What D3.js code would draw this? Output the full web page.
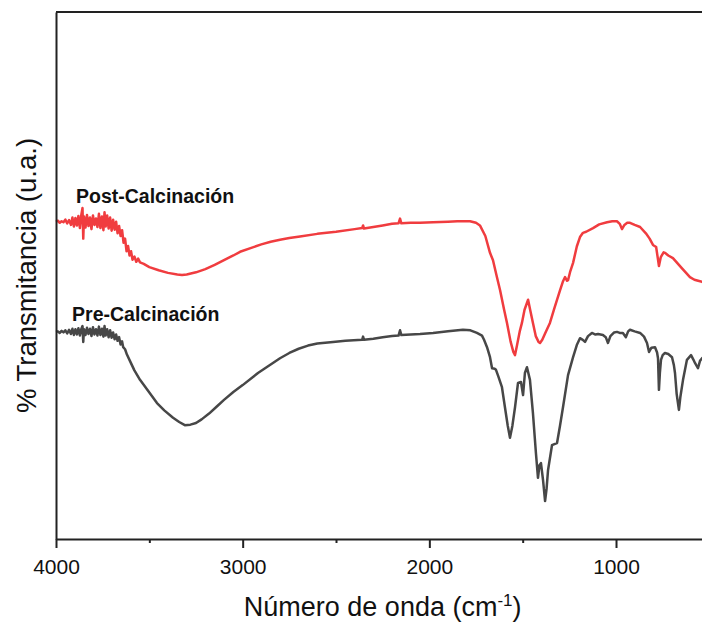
<!DOCTYPE html>
<html>
<head>
<meta charset="utf-8">
<script src="https://cdn.jsdelivr.net/npm/d3@7"></script>
<style>
  html, body { margin: 0; padding: 0; background: #fff; }
  svg { display: block; }
  text { font-family: Arial, "Liberation Sans", sans-serif; fill: #111; }
</style>
</head>
<body>
<svg id="chart" width="702" height="624"></svg>
<script>
// FTIR spectra: wavenumber (cm-1) and transmittance (arbitrary units, offset per sample)
const postWavenumber = [
  4000,3990,3980,3970,3960,3950,3940,3930,3920,3912,3904,3896,3888,3880,3872,3864,3858,3854,3850,3842,
  3834,3826,3818,3810,3802,3794,3786,3778,3770,3762,3754,3746,3740,3734,3726,3718,3710,3702,3694,3686,
  3678,3670,3662,3654,3646,3638,3630,3622,3614,3606,3598,3590,3580,3570,3560,3550,3530,3500,3450,3400,
  3350,3325,3300,3250,3200,3150,3100,3050,3014,2950,2900,2850,2800,2750,2693,2600,2500,2400,2360,2355,
  2350,2300,2250,2200,2165,2157,2150,2100,2050,1980,1900,1850,1782,1750,1729,1700,1675,1659,1640,1621,
  1600,1584,1565,1550,1541,1530,1515,1504,1490,1471,1460,1445,1430,1415,1407,1395,1380,1354,1330,1300,
  1285,1273,1262,1257,1245,1230,1210,1193,1177,1160,1123,1090,1048,1020,995,980,968,955,940,925,
  900,871,840,820,802,785,775,770,760,745,738,720,695,650,604,580,560,539,500
];
const postTransmittance = [
  60.2,60.4,60.0,60.3,60.1,60.6,59.9,60.5,59.6,61.0,59.3,60.9,59.5,61.3,59.0,61.6,62.8,57.0,61.2,59.1,
  61.5,59.4,61.0,58.8,61.4,59.6,60.8,59.2,61.7,59.0,61.2,58.6,62.0,59.3,61.4,58.9,61.0,58.5,60.6,58.7,
  60.2,58.0,59.4,57.5,58.6,56.2,57.0,54.6,55.6,53.8,54.6,53.0,53.6,52.6,53.2,52.5,52.2,51.6,51.0,50.5,
  50.2,50.1,50.2,50.6,51.2,52.0,52.9,53.8,54.5,55.3,55.9,56.4,56.8,57.1,57.4,57.9,58.3,58.8,59.0,59.5,
  58.9,59.2,59.5,59.8,59.9,60.8,59.9,60.0,60.0,60.1,60.2,60.3,60.3,60.0,59.5,57.5,54.3,52.9,50.0,47.2,
  43.6,41.0,37.5,35.5,34.9,36.8,39.5,41.0,43.5,45.4,43.5,41.0,38.5,37.4,37.2,37.8,39.0,41.0,43.8,47.2,
  48.8,49.7,49.0,49.1,50.8,52.4,55.5,57.3,58.1,58.3,59.0,59.7,60.1,60.3,60.3,59.8,58.8,59.6,60.0,60.0,
  59.6,59.2,58.0,57.0,55.8,55.4,53.0,51.8,53.5,54.4,54.3,53.8,53.3,51.5,49.7,49.2,49.0,48.8,48.2
];

const preWavenumber = [
  4000,3990,3980,3970,3960,3950,3940,3930,3920,3912,3904,3896,3888,3880,3872,3864,3858,3854,3850,3842,
  3834,3826,3818,3810,3802,3794,3786,3778,3770,3762,3754,3746,3740,3734,3726,3718,3710,3702,3694,3686,
  3678,3670,3662,3654,3646,3640,3630,3620,3604,3580,3550,3500,3459,3420,3373,3340,3310,3280,3250,3220,
  3180,3140,3100,3050,3000,2918,2850,2800,2750,2700,2650,2600,2516,2450,2360,2355,2350,2300,2250,2200,
  2165,2157,2150,2100,2050,1980,1900,1820,1780,1745,1718,1707,1691,1675,1664,1650,1643,1630,1611,1595,
  1580,1568,1555,1541,1525,1509,1498,1488,1477,1461,1445,1429,1418,1410,1402,1391,1380,1372,1364,1343,
  1330,1316,1300,1284,1257,1230,1210,1193,1178,1166,1150,1129,1110,1096,1070,1055,1043,1030,1010,995,
  980,963,947,935,925,900,871,850,834,823,810,791,780,775,770,765,759,750,738,720,
  700,690,684,675,663,655,641,620,598,585,577,561,550,539,500
];
const preTransmittance = [
  39.3,39.4,39.1,39.5,39.2,39.6,39.0,39.7,38.9,39.9,38.7,39.8,38.8,40.0,38.6,39.9,40.4,37.4,39.8,38.7,
  40.1,38.9,39.9,38.5,40.2,38.8,39.8,38.6,40.3,38.7,39.9,38.4,40.4,38.6,39.8,38.3,39.6,38.2,39.2,37.9,
  38.8,37.6,38.3,36.9,37.5,36.4,36.0,35.0,33.8,32.0,30.2,27.8,25.8,24.4,23.0,22.2,21.6,21.7,22.0,22.7,
  23.8,25.1,26.4,27.9,29.2,31.5,33.1,34.3,35.3,36.1,36.7,37.1,37.4,37.6,37.8,38.4,37.8,38.0,38.3,38.5,
  38.6,39.6,38.7,38.8,38.9,39.1,39.4,39.7,39.6,39.1,38.6,37.8,36.4,34.5,32.4,32.3,32.1,30.8,28.8,25.0,
  21.5,19.2,21.5,25.0,29.6,29.8,27.3,31.5,32.6,30.2,23.9,16.3,11.6,14.0,14.4,11.2,7.2,9.5,13.1,17.8,
  18.0,18.2,21.5,25.0,31.1,34.5,36.8,38.1,37.8,37.4,38.5,39.1,38.8,38.9,38.7,38.3,37.2,38.5,39.2,39.3,
  39.1,39.1,38.3,39.4,39.7,39.4,39.1,38.4,37.2,35.5,36.3,36.4,35.4,34.3,28.3,31.5,34.0,34.9,35.3,35.1,
  34.5,33.0,31.5,27.5,24.5,27.0,30.2,34.0,34.9,34.0,33.4,32.4,33.8,34.3,35.0
];

const majorTicks = [4000, 3000, 2000, 1000];
const minorTicks = [3500, 2500, 1500];
const seriesNames = ["Post-Calcinación", "Pre-Calcinación"];
const seriesColors = ["#f03c3f", "#474747"];
const xTitle = "Número de onda (cm";
const yTitle = "% Transmitancia (u.a.)";

const svg = d3.select("#chart");
const plotLeft = 56, plotTop = 12, plotBottom = 539;

const x = d3.scaleLinear().domain([4000, 500]).range([plotLeft, plotLeft + 3500 * 0.18667]);
const y = d3.scaleLinear().domain([0, 100]).range([plotBottom, plotTop]);

const series = [
  { name: seriesNames[0], color: seriesColors[0], pts: postWavenumber.map((w, i) => [w, postTransmittance[i]]) },
  { name: seriesNames[1], color: seriesColors[1], pts: preWavenumber.map((w, i) => [w, preTransmittance[i]]) }
];

const line = d3.line().x(d => x(d[0])).y(d => y(d[1]));

svg.selectAll("path.spectrum")
  .data(series)
  .join("path")
  .attr("class", "spectrum")
  .attr("d", d => line(d.pts))
  .attr("fill", "none")
  .attr("stroke", d => d.color)
  .attr("stroke-width", 2.5)
  .attr("stroke-linejoin", "round");

// Frame: top border and left axis (no ticks)
svg.append("line")
  .attr("x1", plotLeft).attr("x2", x.range()[1])
  .attr("y1", plotTop).attr("y2", plotTop)
  .attr("stroke", "#222").attr("stroke-width", 2);

svg.append("g")
  .attr("transform", `translate(${plotLeft},0)`)
  .call(d3.axisLeft(y).tickValues([]).tickSizeOuter(0))
  .call(g => g.select(".domain").attr("stroke", "#222").attr("stroke-width", 2));

// Bottom axis with major and minor ticks
svg.append("g")
  .attr("transform", `translate(0,${plotBottom})`)
  .call(d3.axisBottom(x).tickValues(minorTicks).tickSize(4).tickSizeOuter(0).tickFormat(""))
  .call(g => g.select(".domain").remove())
  .call(g => g.selectAll(".tick line").attr("stroke", "#222").attr("stroke-width", 2));

svg.append("g")
  .attr("transform", `translate(0,${plotBottom})`)
  .call(d3.axisBottom(x).tickValues(majorTicks).tickSize(9).tickSizeOuter(0).tickPadding(11).tickFormat(d3.format("d")))
  .call(g => g.select(".domain").attr("stroke", "#222").attr("stroke-width", 2))
  .call(g => g.selectAll(".tick line").attr("stroke", "#222").attr("stroke-width", 2))
  .call(g => g.selectAll(".tick text")
    .attr("font-size", 21)
    .attr("font-family", "Arial, 'Liberation Sans', sans-serif")
    .attr("fill", "#111"));

// Axis titles
const xt = svg.append("text")
  .attr("x", (x.range()[0] + x.range()[1]) / 2)
  .attr("y", 616)
  .attr("text-anchor", "middle")
  .attr("font-size", 27);
xt.append("tspan").text(xTitle);
xt.append("tspan").attr("font-size", 17).attr("dy", -10).text("-1");
xt.append("tspan").attr("dy", 10).text(")");

svg.append("text")
  .attr("transform", `translate(35.5,${(plotTop + plotBottom) / 2}) rotate(-90)`)
  .attr("text-anchor", "middle")
  .attr("font-size", 27.5)
  .text(yTitle);

// Sample labels
svg.append("text")
  .attr("x", x(3893)).attr("y", 203)
  .attr("font-size", 19.5).attr("font-weight", "bold")
  .text(seriesNames[0]);
svg.append("text")
  .attr("x", x(3914)).attr("y", 321)
  .attr("font-size", 19.5).attr("font-weight", "bold")
  .text(seriesNames[1]);
</script>
</body>
</html>
